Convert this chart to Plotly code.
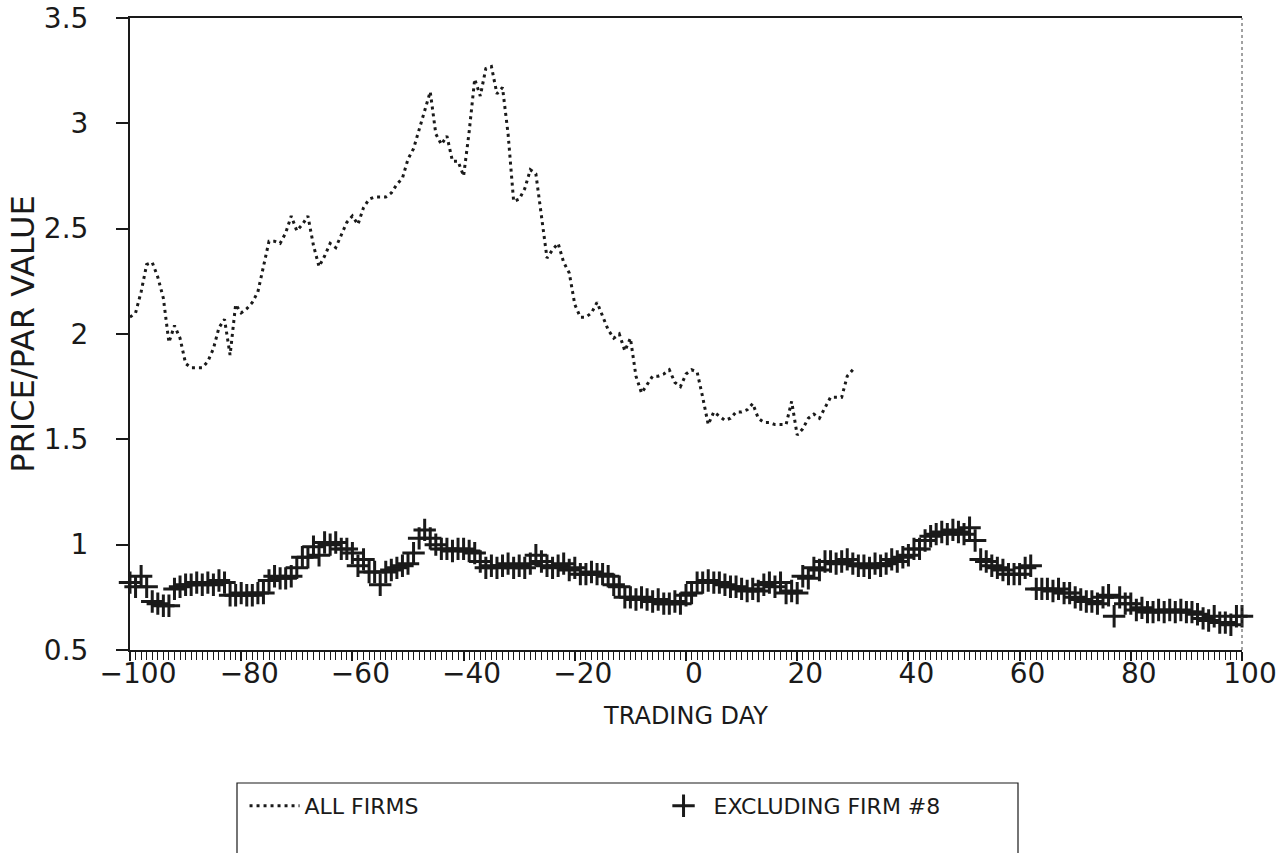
import plotly.graph_objects as go

# ---- data ----
days_all = list(range(-100, 31))
all_firms = [
    2.08, 2.10, 2.20, 2.33, 2.34, 2.27, 2.17, 1.96, 2.04, 1.98,   # -100..-91
    1.86, 1.84, 1.84, 1.84, 1.87, 1.93, 2.03, 2.07, 1.90, 2.14,   # -90..-81
    2.10, 2.12, 2.15, 2.20, 2.32, 2.44, 2.44, 2.43, 2.48, 2.56,   # -80..-71
    2.49, 2.52, 2.56, 2.42, 2.32, 2.37, 2.43, 2.41, 2.47, 2.53,   # -70..-61
    2.56, 2.52, 2.60, 2.64, 2.65, 2.65, 2.65, 2.67, 2.71, 2.74,   # -60..-51
    2.83, 2.88, 2.97, 3.07, 3.15, 2.95, 2.90, 2.94, 2.82, 2.82,   # -50..-41
    2.75, 2.96, 3.21, 3.13, 3.26, 3.27, 3.14, 3.17, 2.95, 2.63,   # -40..-31
    2.64, 2.69, 2.78, 2.76, 2.55, 2.36, 2.40, 2.43, 2.34, 2.29,   # -30..-21
    2.14, 2.08, 2.08, 2.10, 2.15, 2.08, 2.02, 1.98, 2.00, 1.92,   # -20..-11
    1.98, 1.80, 1.72, 1.76, 1.80, 1.80, 1.81, 1.83, 1.77, 1.75,   # -10..-1
    1.81, 1.83, 1.82, 1.70, 1.57, 1.63, 1.61, 1.59, 1.60, 1.63,   # 0..9
    1.63, 1.64, 1.67, 1.60, 1.58, 1.58, 1.57, 1.57, 1.57, 1.68,   # 10..19
    1.52, 1.55, 1.60, 1.62, 1.60, 1.65, 1.70, 1.70, 1.70, 1.80,   # 20..29
    1.83,                                                         # 30
]

days_excl = list(range(-100, 101))
excluding_8 = [
    0.82, 0.80, 0.85, 0.80, 0.73, 0.72, 0.71, 0.71, 0.79, 0.80,   # -100..-91
    0.81, 0.81, 0.82, 0.81, 0.82, 0.81, 0.83, 0.82, 0.76, 0.76,   # -90..-81
    0.77, 0.76, 0.76, 0.77, 0.77, 0.83, 0.85, 0.84, 0.84, 0.85,   # -80..-71
    0.89, 0.94, 0.94, 0.99, 0.95, 1.01, 1.00, 1.01, 0.98, 0.98,   # -70..-61
    0.96, 0.90, 0.93, 0.87, 0.87, 0.81, 0.87, 0.88, 0.89, 0.90,   # -60..-51
    0.91, 0.96, 1.03, 1.07, 1.03, 1.00, 0.98, 0.98, 0.97, 0.98,   # -50..-41
    0.98, 0.97, 0.96, 0.92, 0.89, 0.90, 0.89, 0.90, 0.91, 0.89,   # -40..-31
    0.90, 0.89, 0.91, 0.95, 0.92, 0.90, 0.89, 0.90, 0.91, 0.88,   # -30..-21
    0.89, 0.86, 0.86, 0.87, 0.86, 0.86, 0.85, 0.81, 0.80, 0.75,   # -20..-11
    0.75, 0.74, 0.75, 0.74, 0.73, 0.74, 0.72, 0.72, 0.73, 0.72,   # -10..-1
    0.76, 0.77, 0.82, 0.82, 0.83, 0.82, 0.82, 0.81, 0.80, 0.80,   # 0..9
    0.79, 0.78, 0.79, 0.78, 0.81, 0.82, 0.80, 0.82, 0.77, 0.78,   # 10..19
    0.77, 0.85, 0.84, 0.89, 0.88, 0.92, 0.92, 0.91, 0.92, 0.93,   # 20..29
    0.91, 0.90, 0.90, 0.89, 0.91, 0.90, 0.91, 0.93, 0.92, 0.94,   # 30..39
    0.95, 0.98, 0.98, 1.02, 1.04, 1.05, 1.06, 1.05, 1.07, 1.06,   # 40..49
    1.05, 1.08, 1.02, 0.93, 0.92, 0.90, 0.89, 0.88, 0.86, 0.86,   # 50..59
    0.86, 0.89, 0.90, 0.79, 0.79, 0.79, 0.78, 0.79, 0.77, 0.77,   # 60..69
    0.75, 0.74, 0.73, 0.73, 0.72, 0.75, 0.76, 0.66, 0.75, 0.72,   # 70..79
    0.72, 0.69, 0.70, 0.68, 0.68, 0.69, 0.68, 0.69, 0.68, 0.69,   # 80..89
    0.68, 0.68, 0.67, 0.65, 0.64, 0.66, 0.63, 0.63, 0.62, 0.66,   # 90..99
    0.66,                                                         # 100
]

x_ticks = [-100, -80, -60, -40, -20, 0, 20, 40, 60, 80, 100]
y_ticks = [0.5, 1, 1.5, 2, 2.5, 3, 3.5]
y_labels = ["0.5", "1", "1.5", "2", "2.5", "3", "3.5"]

FONT = "DejaVu Sans"
INK = "#1a1a1a"

fig = go.Figure()
fig.add_trace(go.Scatter(
    x=days_all, y=all_firms, mode="lines", name="ALL FIRMS",
    line=dict(color=INK, width=3, dash="3px,4px"),
))
fig.add_trace(go.Scatter(
    x=days_excl, y=excluding_8, mode="markers", name="EXCLUDING FIRM #8",
    marker=dict(symbol="cross-thin", size=16, line=dict(color=INK, width=3)),
    cliponaxis=False,
))

fig.update_layout(
    width=1282, height=853,
    margin=dict(l=130, r=40, t=18, b=203),
    paper_bgcolor="white", plot_bgcolor="white",
    font=dict(family=FONT, color=INK, size=22),
    showlegend=True,
    legend=dict(
        orientation="h", x=0.103, y=-(785 - 650) / 632, xanchor="left", yanchor="top",
        bgcolor="rgba(0,0,0,0)", borderwidth=0,
        font=dict(family=FONT, size=22, color=INK),
        itemwidth=50, entrywidth=344, entrywidthmode="pixels",
    ),
    xaxis=dict(
        range=[-100, 100], tickvals=x_ticks, ticktext=[str(v).replace("-", "\u2212") for v in x_ticks],
        showgrid=False, zeroline=False, automargin=False,
        showline=True, linecolor=INK, linewidth=2, mirror=True,
        ticks="outside", ticklen=9, tickwidth=1.5, tickcolor=INK,
        minor=dict(dtick=1, tick0=0, ticks="outside", ticklen=8, tickwidth=1, tickcolor=INK, showgrid=False),
        tickfont=dict(family=FONT, size=28, color=INK),
        ticklabelshift=8, ticklabelstandoff=-12,
        title=dict(text="TRADING DAY", font=dict(family=FONT, size=24, color=INK), standoff=19),
    ),
    yaxis=dict(
        range=[0.5, 3.5], tickvals=y_ticks, ticktext=y_labels,
        showgrid=False, zeroline=False, automargin=False,
        showline=True, linecolor=INK, linewidth=2,
        ticks="outside", ticklen=12, tickwidth=1.5, tickcolor=INK,
        tickfont=dict(family=FONT, size=28, color=INK),
        ticklabelstandoff=22,
        title=dict(text="PRICE/PAR VALUE", font=dict(family=FONT, size=32, color=INK), standoff=0),
    ),
    shapes=[
        # faint dotted right border
        dict(type="line", xref="paper", yref="paper", x0=1, x1=1, y0=0, y1=1,
             line=dict(color="#444", width=1, dash="dot")),
        # legend frame (bottom runs off the page like the reference)
        dict(type="rect", xref="paper", yref="paper",
             x0=(237 - 130) / 1112, x1=(1018 - 130) / 1112,
             y0=(650 - 870) / 632, y1=(650 - 783) / 632,
             line=dict(color=INK, width=1.2), fillcolor="rgba(0,0,0,0)"),
    ],
)

fig.write_html(
    "out.html",
    config={"displayModeBar": False},
    post_script="document.body.style.margin='0px';document.documentElement.style.overflow='hidden';",
)
